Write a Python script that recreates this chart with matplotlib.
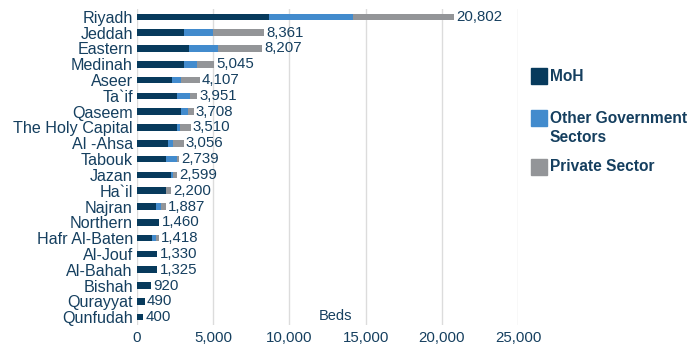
import numpy as np
import matplotlib.pyplot as plt
from matplotlib.patches import Rectangle

regions = ['Riyadh', 'Jeddah', 'Eastern', 'Medinah', 'Aseer', 'Ta`if', 'Qaseem',
           'The Holy Capital', 'Al -Ahsa', 'Tabouk', 'Jazan', 'Ha`il', 'Najran',
           'Northern', 'Hafr Al-Baten', 'Al-Jouf', 'Al-Bahah', 'Bishah',
           'Qurayyat', 'Qunfudah']
totals = [20802, 8361, 8207, 5045, 4107, 3951, 3708, 3510, 3056, 2739,
          2599, 2200, 1887, 1460, 1418, 1330, 1325, 920, 490, 400]
moh = [8660, 3080, 3410, 3080, 2300, 2620, 2890, 2650, 2060, 1900,
       2250, 1900, 1250, 1460, 960, 1330, 1300, 920, 490, 400]
other_gov = [5510, 1910, 1920, 860, 590, 860, 460, 190, 300, 750,
             80, 0, 350, 0, 290, 0, 0, 0, 0, 0]
private = [t - m - o for t, m, o in zip(totals, moh, other_gov)]
series = ['MoH', 'Other Government\nSectors', 'Private Sector']

navy = '#073a5c'
blue = '#428bcd'
grey = '#939598'
txt = '#153f5f'
colors = [navy, blue, grey]

plt.rcParams['font.family'] = ['Liberation Sans', 'DejaVu Sans']

fig = plt.figure(figsize=(6.9, 3.44), dpi=100)
ax = fig.add_axes([0.1986, 0.055, 0.5521, 0.919])

y = np.arange(len(regions))
h = 0.42
ax.barh(y, moh, height=h, color=navy)
ax.barh(y, other_gov, left=moh, height=h, color=blue)
ax.barh(y, private, left=np.add(moh, other_gov), height=h, color=grey)

for yi, t in zip(y, totals):
    ax.text(t + 150, yi, f'{t:,}', va='center', ha='left', fontsize=10.8, color=txt)

ax.set_xlim(0, 25000)
ax.set_ylim(len(regions) - 0.5, -0.5)
ax.set_yticks(y)
ax.set_yticklabels(regions, fontsize=11.6, color=txt)
ax.set_xticks(range(0, 25001, 5000))
ax.set_xticklabels([f'{v:,}' for v in range(0, 25001, 5000)], fontsize=10.8, color=txt)
ax.tick_params(length=0)
ax.tick_params(axis='x', pad=4.5)
ax.tick_params(axis='y', pad=3)
ax.grid(axis='x', color='#dcdcdc', linewidth=1)
ax.set_axisbelow(True)
for s in ax.spines.values():
    s.set_visible(False)

ax.text(0.52, 0.015, 'Beds', transform=ax.transAxes, fontsize=10.5, color=txt, ha='center')

# legend drawn by hand so the swatch sits beside the first line of a wrapped label
key_tops = [0.802, 0.680, 0.538]
sw, sh = 16 / 690, 16 / 344
for top, c, lab in zip(key_tops, colors, series):
    fig.add_artist(Rectangle((531 / 690, top - sh), sw, sh, color=c,
                             transform=fig.transFigure))
    lines = lab.split('\n')
    for i, line in enumerate(lines):
        fig.text(550 / 690, top - sh / 2 - i * 19 / 344, line, va='center', ha='left',
                 fontsize=11.2, fontweight='bold', color=txt)

fig.savefig('out.png', dpi=100)
